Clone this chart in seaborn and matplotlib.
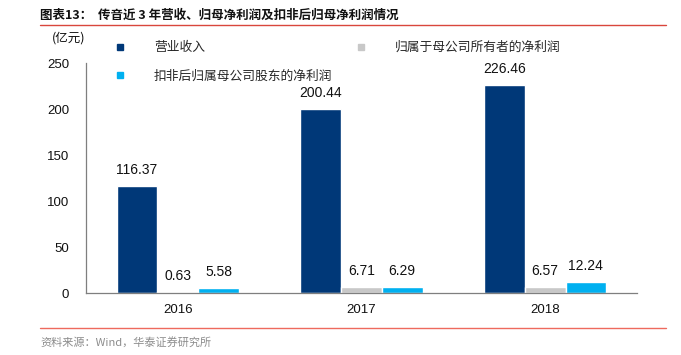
import numpy as np
import pandas as pd
import matplotlib
matplotlib.use('Agg')
import matplotlib.pyplot as plt
from matplotlib.lines import Line2D
import seaborn as sns

sns.set_style('white')
plt.rcParams['font.family'] = ['Noto Sans CJK SC', 'DejaVu Sans']
plt.rcParams['axes.unicode_minus'] = False

# data (亿元)
years = ['2016', '2017', '2018']
series_names = ['营业收入', '归属于母公司所有者的净利润', '扣非后归属母公司股东的净利润']
revenue = [116.37, 200.44, 226.46]
net_profit = [0.63, 6.71, 6.57]
net_profit_adj = [5.58, 6.29, 12.24]
colors = ['#003878', '#C8C8C8', '#00B0F0']

df = pd.DataFrame({
	'Year': years * 3,
	'Series': [series_names[0]] * 3 + [series_names[1]] * 3 + [series_names[2]] * 3,
	'Value': revenue + net_profit + net_profit_adj,
})

fig = plt.figure(figsize=(6.81, 3.55), dpi=100)
ax = fig.add_axes([86 / 681, 1 - 293 / 355, (637 - 86) / 681, (293 - 63) / 355])

sns.barplot(
	data=df, x='Year', y='Value', hue='Series',
	hue_order=series_names, palette=colors,
	width=0.665, gap=0, saturation=1, legend=False, ax=ax,
)

# value labels
num_font = ['Liberation Sans', 'DejaVu Sans']
for container in ax.containers:
	for bar in container:
		h = bar.get_height()
		ax.annotate(
			'%.2f' % h,
			xy=(bar.get_x() + bar.get_width() / 2, h),
			xytext=(0, 11.5), textcoords='offset points',
			ha='center', va='center', fontsize=10, family=num_font, color='#111111',
		)

ax.set_ylim(0, 250)
ax.set_xlim(-0.5, 2.5)
ax.set_yticks([0, 50, 100, 150, 200, 250])
ax.set_xlabel('')
ax.set_ylabel('')

for side in ['top', 'right']:
	ax.spines[side].set_visible(False)
for side in ['left', 'bottom']:
	ax.spines[side].set_color('#7f7f7f')
	ax.spines[side].set_linewidth(0.9)

ax.set_xticks([-0.5, 0.5, 1.5, 2.5], minor=True)
ax.tick_params(axis='x', which='major', length=0, pad=8)
ax.tick_params(axis='x', which='minor', length=5, direction='out', color='#7f7f7f', width=0.9)
ax.tick_params(axis='y', length=4, direction='out', color='#7f7f7f', width=0.9, pad=8)
for lbl in ax.get_xticklabels() + ax.get_yticklabels():
	lbl.set_family(num_font)
	lbl.set_fontsize(9.5)
	lbl.set_color('#111111')

# legend: first column gets entries 1 and 3
handles = [
	Line2D([], [], marker='s', linestyle='none', markersize=5, color=colors[0]),
	Line2D([], [], marker='s', linestyle='none', markersize=5, color=colors[2]),
	Line2D([], [], marker='s', linestyle='none', markersize=5, color=colors[1]),
]
labels = [series_names[0], series_names[2], series_names[1]]
fig.legend(
	handles, labels, ncol=2, frameon=False,
	loc='upper left', bbox_to_anchor=(117 / 681, 1 - 41 / 355), bbox_transform=fig.transFigure,
	borderpad=0, borderaxespad=0, handlelength=0.5, handletextpad=2.4,
	columnspacing=2.0, labelspacing=1.2, prop={'size': 9.2},
)

# titles and notes
fig.text(40 / 681, 1 - 15 / 355, '图表13：  传音近 3 年营收、归母净利润及扣非后归母净利润情况',
	fontsize=9, fontweight='bold', va='center', ha='left', color='#111111')
fig.add_artist(Line2D([40 / 681, 666 / 681], [1 - 25 / 355, 1 - 25 / 355], color='#D9463C', linewidth=1.0))
fig.text(52 / 681, 1 - 38 / 355, '(亿元)', fontsize=9, va='center', ha='left', color='#111111')
fig.add_artist(Line2D([40 / 681, 666 / 681], [1 - 328 / 355, 1 - 328 / 355], color='#EE6A5E', linewidth=1.0))
fig.text(40 / 681, 1 - 342 / 355, '资料来源：Wind，华泰证券研究所',
	fontsize=8, va='center', ha='left', color='#8c8c8c')

plt.savefig('out.png', dpi=100)
